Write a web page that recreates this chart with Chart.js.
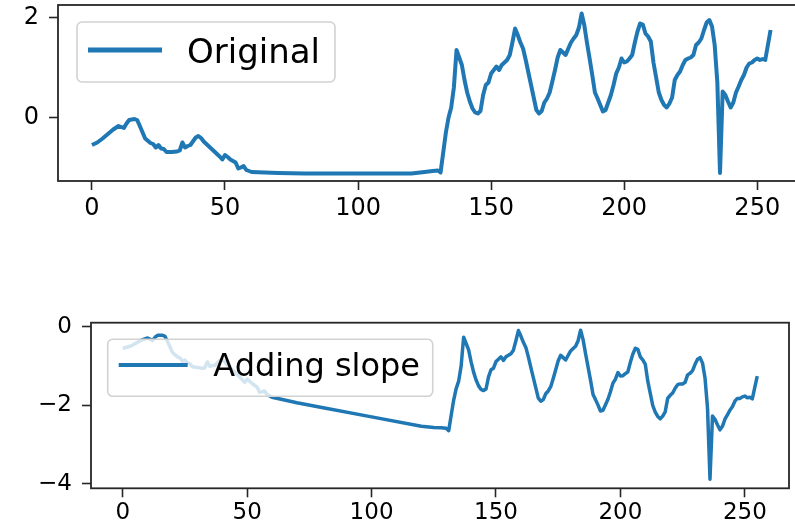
<!DOCTYPE html>
<html>
<head>
<meta charset="utf-8">
<script src="https://cdn.jsdelivr.net/npm/chart.js@4/dist/chart.umd.min.js"></script>
<style>
  html, body { margin: 0; padding: 0; background: #fff; overflow: hidden; }
  #wrap { position: relative; width: 795px; height: 529px; overflow: hidden; }
  #topChart { position: absolute; left: 0; top: 0; }
  #bottomChart { position: absolute; left: 0; top: 300px; }
</style>
</head>
<body>
<div id="wrap">
  <canvas id="topChart" width="815" height="240"></canvas>
  <canvas id="bottomChart" width="795" height="229"></canvas>
</div>
<script>
"use strict";

// sample index (x) shared by both series
var steps = [
  0, 2, 4, 6, 8, 10, 12, 13, 14, 16,
  17, 18, 20, 22, 23, 24, 25, 26, 27, 28,
  30, 32, 33, 34, 35, 36, 37, 39, 40, 41,
  42, 44, 46, 48, 49, 50, 51, 52, 54, 55,
  56, 57, 58, 60, 70, 80, 100, 120, 125, 128,
  130, 131, 132, 133, 134, 135, 136, 137, 138, 139,
  140, 141, 142, 143, 144, 145, 146, 147, 148, 149,
  150, 151, 152, 153, 154, 155, 156, 157, 158, 159,
  160, 161, 162, 163, 164, 165, 166, 167, 168, 169,
  170, 171, 172, 173, 174, 175, 176, 177, 178, 179,
  180, 181, 182, 183, 184, 185, 186, 187, 188, 189,
  190, 191, 192, 193, 194, 195, 196, 197, 198, 199,
  200, 201, 202, 203, 204, 205, 206, 207, 208, 209,
  210, 211, 212, 213, 214, 215, 216, 217, 218, 219,
  220, 221, 222, 223, 224, 225, 226, 227, 228, 229,
  230, 231, 232, 233, 234, 235, 236, 237, 238, 239,
  240, 241, 242, 243, 244, 245, 246, 247, 248, 249,
  250, 251, 252, 253, 254, 255
];

var original = [
  -0.55, -0.50, -0.42, -0.33, -0.24, -0.17, -0.21, -0.12, -0.05, -0.03,
  -0.05, -0.17, -0.42, -0.51, -0.53, -0.60, -0.55, -0.62, -0.63, -0.69,
  -0.69, -0.68, -0.66, -0.50, -0.60, -0.57, -0.55, -0.40, -0.37, -0.41,
  -0.48, -0.58, -0.68, -0.78, -0.84, -0.75, -0.79, -0.84, -0.90, -1.02,
  -1.00, -0.97, -1.05, -1.09, -1.11, -1.12, -1.12, -1.12, -1.09, -1.07,
  -1.06, -1.10, -0.70, -0.30, 0.00, 0.20, 0.60, 1.35, 1.20, 1.05,
  0.75, 0.50, 0.32, 0.18, 0.10, 0.08, 0.13, 0.45, 0.65, 0.70,
  0.88, 0.95, 1.02, 0.95, 1.05, 1.10, 1.15, 1.25, 1.50, 1.78,
  1.65, 1.50, 1.38, 1.15, 0.90, 0.65, 0.40, 0.15, 0.08, 0.13,
  0.30, 0.38, 0.50, 0.72, 0.95, 1.20, 1.35, 1.30, 1.25, 1.38,
  1.50, 1.58, 1.65, 1.80, 2.08, 1.85, 1.50, 1.18, 0.85, 0.50,
  0.38, 0.25, 0.12, 0.15, 0.30, 0.45, 0.65, 0.88, 1.00, 1.18,
  1.10, 1.12, 1.18, 1.25, 1.50, 1.72, 1.88, 1.86, 1.68, 1.62,
  1.52, 1.10, 0.80, 0.50, 0.35, 0.25, 0.20, 0.28, 0.40, 0.75,
  0.85, 0.92, 1.05, 1.15, 1.18, 1.20, 1.25, 1.45, 1.50, 1.58,
  1.75, 1.90, 1.95, 1.82, 1.45, 0.70, -1.11, 0.52, 0.45, 0.32,
  0.20, 0.30, 0.50, 0.62, 0.75, 0.85, 1.00, 1.08, 1.10, 1.15,
  1.18, 1.15, 1.17, 1.15, 1.45, 1.75
];

var withSlope = [
  -0.55, -0.52, -0.47, -0.40, -0.33, -0.29, -0.35, -0.27, -0.22, -0.22,
  -0.25, -0.38, -0.66, -0.77, -0.80, -0.88, -0.85, -0.93, -0.95, -1.02,
  -1.04, -1.06, -1.05, -0.90, -1.01, -0.99, -0.99, -0.86, -0.84, -0.89,
  -0.98, -1.10, -1.22, -1.35, -1.42, -1.34, -1.39, -1.45, -1.54, -1.67,
  -1.66, -1.64, -1.73, -1.80, -1.94, -2.06, -2.30, -2.54, -2.57, -2.58,
  -2.59, -2.65, -2.26, -1.87, -1.58, -1.39, -1.00, -0.27, -0.43, -0.59,
  -0.90, -1.16, -1.36, -1.51, -1.60, -1.63, -1.59, -1.28, -1.10, -1.06,
  -0.89, -0.83, -0.77, -0.86, -0.77, -0.73, -0.69, -0.60, -0.36, -0.10,
  -0.24, -0.40, -0.53, -0.77, -1.04, -1.30, -1.56, -1.82, -1.90, -1.86,
  -1.71, -1.64, -1.53, -1.32, -1.10, -0.87, -0.73, -0.79, -0.85, -0.73,
  -0.62, -0.56, -0.50, -0.36, -0.09, -0.33, -0.69, -1.03, -1.37, -1.73,
  -1.86, -2.00, -2.15, -2.13, -1.99, -1.85, -1.66, -1.44, -1.34, -1.17,
  -1.26, -1.25, -1.20, -1.15, -0.91, -0.70, -0.55, -0.58, -0.77, -0.85,
  -0.96, -1.39, -1.70, -2.01, -2.18, -2.29, -2.35, -2.28, -2.17, -1.83,
  -1.75, -1.69, -1.57, -1.48, -1.46, -1.46, -1.42, -1.23, -1.19, -1.12,
  -0.96, -0.83, -0.79, -0.93, -1.31, -2.07, -3.89, -2.28, -2.36, -2.50,
  -2.63, -2.54, -2.36, -2.25, -2.13, -2.04, -1.90, -1.83, -1.83, -1.79,
  -1.77, -1.81, -1.80, -1.84, -1.55, -1.26
];

var xTicks = [0, 50, 100, 150, 200, 250];
var topYTicks = [0, 2];
var bottomYTicks = [-4, -2, 0];

var BLUE = '#1f77b4';
var FONT = "'DejaVu Sans', sans-serif";

function toPoints(ys) {
  return steps.map(function (x, i) { return { x: x, y: ys[i] }; });
}

function minusSign(v) {
  return String(v).replace('-', '\u2212');
}

// box round the plot area (matplotlib spines)
var framePlugin = {
  id: 'frame',
  afterDatasetsDraw: function (chart) {
    var a = chart.chartArea, ctx = chart.ctx;
    ctx.save();
    ctx.strokeStyle = '#262626';
    ctx.lineWidth = 1.8;
    ctx.strokeRect(a.left, a.top, a.right - a.left, a.bottom - a.top);
    ctx.restore();
  }
};

// framed legend sitting inside the plot, upper left
var boxLegend = {
  id: 'boxLegend',
  afterDraw: function (chart, args, o) {
    var a = chart.chartArea, ctx = chart.ctx;
    var ds = chart.data.datasets[0];
    var x = a.left + o.dx, y = a.top + o.dy, r = 5;
    ctx.save();
    ctx.beginPath();
    ctx.moveTo(x + r, y);
    ctx.arcTo(x + o.w, y, x + o.w, y + o.h, r);
    ctx.arcTo(x + o.w, y + o.h, x, y + o.h, r);
    ctx.arcTo(x, y + o.h, x, y, r);
    ctx.arcTo(x, y, x + o.w, y, r);
    ctx.closePath();
    ctx.fillStyle = 'rgba(255,255,255,0.8)';
    ctx.fill();
    ctx.strokeStyle = '#d2d2d2';
    ctx.lineWidth = 1.6;
    ctx.stroke();

    ctx.beginPath();
    ctx.moveTo(x + o.lineFrom, y + o.lineY);
    ctx.lineTo(x + o.lineTo, y + o.lineY);
    ctx.strokeStyle = ds.borderColor;
    ctx.lineWidth = o.lineWidth;
    ctx.stroke();

    ctx.fillStyle = '#000';
    ctx.font = o.fontSize + 'px ' + FONT;
    ctx.textBaseline = 'alphabetic';
    ctx.textAlign = 'left';
    ctx.fillText(ds.label, x + o.textX, y + o.baseline);
    ctx.restore();
  }
};

function makeChart(id, label, ys, cfg) {
  return new Chart(document.getElementById(id), {
    type: 'line',
    data: {
      datasets: [{
        label: label,
        data: toPoints(ys),
        borderColor: BLUE,
        borderWidth: cfg.lineWidth,
        borderJoinStyle: 'round',
        pointRadius: 0,
        fill: false,
        tension: 0
      }]
    },
    options: {
      responsive: false,
      animation: false,
      layout: { padding: cfg.padding },
      plugins: {
        legend: { display: false },
        tooltip: { enabled: false },
        boxLegend: cfg.legend
      },
      scales: {
        x: {
          type: 'linear',
          min: -12.75,
          max: 267.75,
          afterBuildTicks: function (s) { s.ticks = xTicks.map(function (v) { return { value: v }; }); },
          afterFit: function (s) { s.height = cfg.xHeight; s.paddingLeft = 0; s.paddingRight = 0; },
          border: { display: false },
          grid: { drawOnChartArea: false, drawTicks: true, tickLength: 9, tickWidth: 1.6, tickColor: '#262626' },
          ticks: { color: '#000', font: { family: FONT, size: cfg.tickSize }, padding: cfg.xPad, maxRotation: 0, autoSkip: false, callback: minusSign }
        },
        y: {
          min: cfg.yMin,
          max: cfg.yMax,
          afterBuildTicks: function (s) { s.ticks = cfg.yTicks.map(function (v) { return { value: v }; }); },
          afterFit: function (s) { s.width = cfg.yWidth; s.paddingTop = 0; s.paddingBottom = 0; },
          border: { display: false },
          grid: { drawOnChartArea: false, drawTicks: true, tickLength: 9, tickWidth: 1.6, tickColor: '#262626' },
          ticks: { color: '#000', font: { family: FONT, size: cfg.tickSize }, padding: 10, autoSkip: false, callback: minusSign }
        }
      }
    },
    plugins: [framePlugin, boxLegend]
  });
}

makeChart('topChart', 'Original', original, {
  lineWidth: 4,
  padding: { top: 5, right: 10.5, bottom: 0, left: 0 },
  xHeight: 59, yWidth: 58, xPad: 4, tickSize: 24,
  yMin: -1.27, yMax: 2.25, yTicks: topYTicks,
  legend: { dx: 19, dy: 17, w: 258, h: 60, lineFrom: 11, lineTo: 85, lineY: 28, lineWidth: 5, textX: 110, baseline: 40.5, fontSize: 34 }
});

makeChart('bottomChart', 'Adding slope', withSlope, {
  lineWidth: 3.5,
  padding: { top: 22.7, right: 6, bottom: 0, left: 0 },
  xHeight: 40.7, yWidth: 91, xPad: 2, tickSize: 23,
  yMin: -4.12, yMax: 0.10, yTicks: bottomYTicks,
  legend: { dx: 16.7, dy: 16.6, w: 325, h: 57, lineFrom: 11, lineTo: 80, lineY: 25.7, lineWidth: 4, textX: 105.6, baseline: 36.7, fontSize: 32 }
});
</script>
</body>
</html>
